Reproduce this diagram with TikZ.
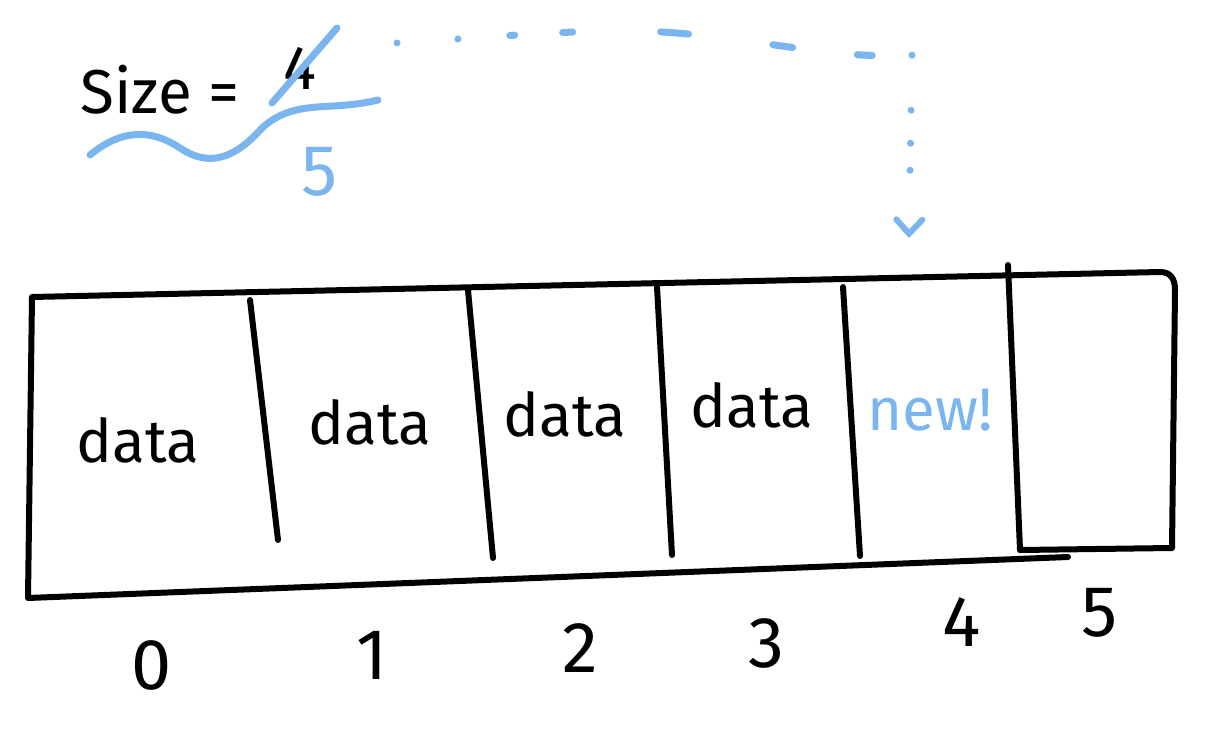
\documentclass[tikz,border=0pt]{standalone}
\usepackage{fontspec}
\setmainfont{Fira Sans}
\usetikzlibrary{arrows.meta}
\definecolor{pen}{RGB}{122,181,240}
\begin{document}
\begin{tikzpicture}[x=1pt,y=-1pt,
  ink/.style={line width=6pt,line cap=round,line join=round,black},
  blueink/.style={line width=7pt,line cap=round,line join=round,pen},
  datalbl/.style={font=\fontsize{60}{64}\selectfont,inner sep=0pt},
  idxlbl/.style={font=\fontsize{72}{76}\selectfont,inner sep=0pt},
  sizelbl/.style={font=\fontsize{62}{66}\selectfont,inner sep=0pt},
  flow/.style={pen,line width=7pt,line cap=round,
    dash pattern=on 0.01pt off 61pt on 0.01pt off 52pt on 5pt off 48pt on 10pt off 88pt on 28pt off 85pt on 20pt off 65pt on 15pt off 40pt on 0.01pt off 55pt on 0.01pt off 33pt on 0.01pt off 27pt on 0.01pt off 300pt,
    -{Straight Barb[length=14pt,width=26pt,line width=6pt,line cap=round]}}]
\fill[white] (0,0) rectangle (1228,730);
\useasboundingbox (0,0) rectangle (1228,730);

% array outline
\draw[ink] (1068,557) -- (28,598) -- (32,297) -- (1160,272)
  .. controls (1170,272) and (1175,278) .. (1175,290) -- (1172,548) -- (1020,550);
% dividers
\draw[ink] (250,300) -- (278,540);
\draw[ink] (468,290) -- (493,558);
\draw[ink] (657,287) -- (672,555);
\draw[ink] (843,287) -- (860,556);
\draw[ink] (1008,265) -- (1020,550);

% cell contents
\node[datalbl] (c0) at (138,440) {data};
\node[datalbl] (c1) at (370,422) {data};
\node[datalbl] (c2) at (565,414) {data};
\node[datalbl] (c3) at (752,405) {data};
\node[datalbl,text=pen] (c4) at (930,410) {new!};

% indices
\node[idxlbl] (i0) at (152,665) {0};
\node[idxlbl] (i1) at (372,655) {1};
\node[idxlbl] (i2) at (580,648) {2};
\node[idxlbl] (i3) at (766,643) {3};
\node[idxlbl] (i4) at (962,622) {4};
\node[idxlbl] (i5) at (1100,613) {5};

% size label
\node[sizelbl] (sizetext) at (160,90) {Size =};
\node[sizelbl] (old) at (300,68) {4};
\draw[blueink] (272,103) -- (337,28);
\draw[blueink] (90,155) .. controls (120,130) and (150,128) .. (180,148)
  .. controls (210,168) and (235,158) .. (262,128)
  .. controls (295,98) and (330,112) .. (378,100);
\node[sizelbl,text=pen,font=\fontsize{72}{76}\selectfont] (new) at (320,172) {5};

% update arrow
\coordinate (from) at (397,43);
\coordinate (tip) at (909,238);
\draw[flow] (from) .. controls (520,35) and (600,28) .. (662,32)
  .. controls (760,38) and (830,60) .. (912,55) -- (tip);
\end{tikzpicture}
\end{document}
